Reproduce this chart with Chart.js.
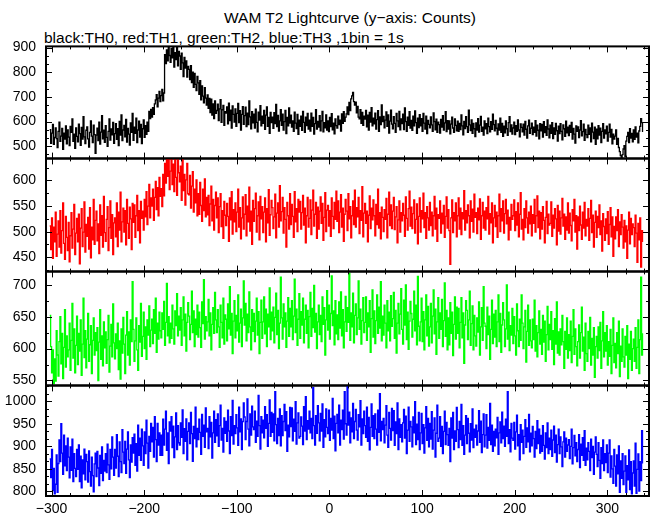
<!DOCTYPE html>
<html><head><meta charset="utf-8">
<script src="https://cdn.jsdelivr.net/npm/chart.js@4/dist/chart.umd.min.js"></script>
<style>
html,body{margin:0;padding:0;background:#fff}
body{width:652px;height:515px;position:relative;overflow:hidden;font-family:"Liberation Sans",Arial,sans-serif;color:#000}
canvas{position:absolute;left:0}
#title{position:absolute;top:10px;left:150px;width:400px;text-align:center;font-size:15.5px;line-height:16px;white-space:nowrap}
#sub{position:absolute;top:30px;left:44px;font-size:15.5px;line-height:16px;white-space:nowrap}
</style></head><body>
<div id="title">WAM T2 Lightcurve (y−axis: Counts)</div>
<div id="sub">black:TH0, red:TH1, green:TH2, blue:TH3 ,1bin = 1s</div>
<canvas id="c0"></canvas><canvas id="c1"></canvas><canvas id="c2"></canvas><canvas id="c3"></canvas>
<script>
// time axis: first bin start and bin width (s)
const T0 = -302, BIN = 1;
const X_TICKS = [-300,-200,-100,0,100,200,300];
const SERIES_NAMES = ['TH0','TH1','TH2','TH3'];
const COLORS = ['#000000','#ff0000','#00ff00','#0000ff'];

const TH0 = [
567,512,553,589,508,536,574,531,495,560,
598,520,541,572,488,553,529,583,510,566,
537,503,581,556,611,520,549,492,574,540,
518,590,551,504,577,529,620,538,511,565,
579,530,497,556,603,541,515,586,547,471,
545,573,523,598,509,557,624,530,565,516,
584,536,500,560,611,525,570,546,597,512,
551,592,528,571,503,601,545,627,523,566,
585,538,609,517,572,549,505,595,556,633,
524,578,552,614,515,566,602,537,589,511,
571,607,536,584,548,598,560,641,612,650,
618,657,629,672,688,709,660,695,723,681,
705,731,684,716,872,835,891,846,904,868,
840,897,859,905,821,880,851,903,826,885,
866,812,878,838,783,860,817,846,781,824,
812,770,827,758,801,739,796,751,726,783,
757,711,766,688,745,703,676,738,695,667,
708,654,694,637,691,626,672,612,684,633,
645,671,604,652,689,597,648,666,585,640,
635,660,591,675,604,646,574,664,629,598,
652,581,633,674,596,644,566,629,661,589,
624,659,580,634,588,684,619,571,640,595,
630,574,651,597,558,638,606,665,583,622,
593,645,569,626,660,581,617,552,637,596,
618,573,636,592,670,580,625,562,603,648,
585,630,566,600,645,551,617,583,656,594,
626,578,603,561,638,594,572,629,548,606,
581,622,565,641,597,556,618,584,633,570,
606,562,634,581,617,549,592,648,570,601,
578,624,563,603,641,558,596,575,627,566,
603,559,617,580,632,567,594,550,611,584,
574,622,588,606,562,631,593,640,601,618,
631,660,628,678,645,692,704,718,681,667,
679,636,662,618,611,648,593,637,585,622,
610,645,579,626,566,637,598,657,583,614,
591,634,570,608,644,560,619,588,668,600,
621,575,606,639,581,627,553,602,646,590,
571,620,593,556,633,603,580,641,567,611,
592,630,568,656,600,561,618,585,640,574,
605,565,622,583,643,596,552,614,576,628,
583,612,560,633,594,570,622,551,605,589,
575,619,587,561,635,600,567,610,556,598,
588,553,609,578,624,566,595,640,559,604,
570,603,550,590,618,574,556,611,585,563,
602,561,593,568,627,583,546,601,572,620,
580,556,646,587,564,607,552,593,571,539,
595,566,612,557,586,621,561,578,545,603,
571,592,551,614,580,558,600,569,630,588,
563,605,573,547,591,566,614,556,593,540,
582,554,603,571,544,596,620,559,587,549,
574,598,547,584,560,607,566,538,591,577,
558,590,545,601,569,533,583,606,552,573,
594,547,578,556,604,541,586,565,530,592,
563,589,537,600,555,580,544,607,570,534,
586,552,596,531,574,548,593,563,521,582,
551,592,560,526,587,571,540,602,554,578,
543,585,556,597,529,572,549,513,583,561,
579,535,566,604,542,559,590,524,568,547,
535,586,548,575,518,594,557,531,578,508,
569,530,584,545,573,515,560,592,533,566,
550,582,521,556,590,537,568,510,549,529,
541,566,508,532,495,478,462,451,466,489,
503,458,521,540,556,515,571,533,552,518,
566,528,579,537,553,514,562,581,612,596,
558];

const TH1 = [
511,465,527,448,509,480,538,452,495,521,
470,541,458,502,556,477,446,530,489,463,
518,441,492,537,468,505,553,455,497,526,
480,534,437,507,545,471,499,558,460,514,
491,528,466,547,449,509,484,563,475,522,
540,482,515,457,552,493,531,470,569,498,
481,524,549,463,508,560,487,533,455,517,
527,490,556,471,538,503,577,480,519,546,
499,541,474,563,516,487,548,525,465,555,
518,552,489,531,571,502,541,478,559,526,
540,503,563,529,578,514,550,592,527,566,
550,583,522,567,598,543,586,531,606,569,
584,549,612,570,633,595,643,608,643,582,
618,643,592,632,578,643,606,571,640,615,
597,628,561,643,580,612,552,601,633,574,
572,610,546,589,617,538,583,556,601,531,
574,534,596,551,520,583,541,603,529,567,
533,571,512,554,589,521,563,503,551,577,
527,566,498,549,574,510,541,487,559,532,
512,555,530,481,566,523,578,495,543,519,
556,500,538,583,509,547,486,527,568,505,
534,572,492,550,519,587,501,540,475,561,
520,545,575,499,531,558,484,569,525,549,
498,538,566,480,545,517,582,493,533,561,
547,506,529,573,488,536,556,509,590,521,
539,567,497,547,524,470,557,531,505,574,
514,553,530,489,578,519,545,500,563,538,
559,505,537,571,513,546,478,531,567,509,
526,562,494,542,581,511,534,557,487,548,
505,540,568,516,555,483,528,576,500,542,
551,511,541,491,566,530,506,557,524,579,
520,560,498,538,572,509,546,481,534,563,
540,502,574,525,549,488,531,560,514,581,
509,547,529,567,496,541,522,588,490,536,
555,516,540,480,532,570,506,546,523,562,
531,492,553,514,583,507,537,486,548,528,
500,543,524,565,488,534,577,512,552,506,
540,567,504,529,549,478,523,560,499,537,
521,555,532,491,568,526,503,545,579,511,
548,506,535,562,497,524,554,476,530,566,
499,541,525,575,508,537,487,549,527,503,
557,512,538,492,531,569,505,546,481,533,
526,560,497,536,515,551,489,530,568,507,
543,502,436,527,562,498,537,521,556,490,
531,566,505,546,494,537,525,580,503,541,
517,552,531,488,560,520,544,499,573,528,
537,496,546,523,564,485,531,557,507,540,
503,547,525,569,495,535,517,556,478,527,
551,510,538,489,531,573,500,545,521,560,
497,535,563,515,542,484,528,503,553,524,
531,562,502,539,513,556,490,534,576,505,
524,484,545,508,560,527,497,538,515,550,
492,533,516,563,499,531,570,508,540,486,
537,505,549,522,478,528,559,496,534,513,
516,558,491,532,507,545,525,474,551,501,
540,495,527,565,511,534,485,529,503,556,
497,536,512,482,543,521,563,499,531,466,
529,502,550,513,485,538,507,557,492,524,
511,545,483,526,561,498,532,470,518,540,
489,530,508,552,494,521,462,535,510,483,
525,496,539,475,514,547,490,529,452,510,
486,529,502,543,471,519,494,533,509,468,
522,480,511,448,503,538,476,526,494,515,
508,471,532,497,440,516,484,527,431,502,
480];

const TH2 = [
652,603,562,598,545,584,549,628,590,557,
611,650,576,624,553,602,661,571,620,587,
598,640,566,613,671,585,631,562,605,651,
575,624,596,645,558,607,679,586,628,570,
615,655,580,606,636,561,613,648,590,625,
597,633,550,610,661,583,620,573,642,601,
626,577,614,652,563,604,638,587,670,609,
584,623,600,640,567,612,552,631,593,649,
607,561,621,658,590,626,574,645,611,705,
630,580,612,648,598,566,636,610,671,588,
619,657,600,634,583,645,621,667,603,629,
646,608,661,624,679,594,640,615,657,628,
617,656,630,674,605,641,702,620,650,609,
640,616,668,631,607,659,636,686,620,651,
629,664,605,645,681,620,654,596,641,672,
651,614,638,690,625,659,603,646,622,668,
618,657,633,602,673,639,708,615,650,628,
642,677,620,656,598,638,664,624,688,645,
625,661,634,602,668,641,617,679,607,653,
646,612,670,631,697,621,655,592,643,675,
617,652,628,684,610,640,662,603,648,706,
637,671,612,654,625,689,634,598,661,627,
655,611,643,679,621,658,592,641,676,616,
642,681,623,662,603,654,634,695,614,657,
628,665,609,649,687,622,660,600,640,712,
648,615,670,634,656,602,643,680,619,663,
634,675,614,651,709,625,662,605,646,686,
616,658,637,679,609,646,668,624,660,601,
650,688,619,663,633,699,626,655,600,642,
668,622,652,611,681,638,664,590,645,691,
629,668,615,655,714,636,659,606,675,623,
653,614,673,632,689,620,661,601,642,682,
627,664,641,718,613,656,634,687,609,652,
670,622,648,706,630,662,607,644,680,625,
641,681,613,656,634,675,594,647,692,618,
659,608,644,684,624,665,632,705,612,651,
621,668,640,601,675,628,657,612,683,635,
647,688,616,660,593,640,671,623,654,694,
630,607,676,637,700,614,657,599,643,674,
655,618,646,690,628,668,606,713,635,612,
642,679,611,658,598,645,684,620,666,604,
634,671,609,651,692,623,662,591,642,680,
616,656,630,677,603,644,703,619,660,598,
648,606,672,624,657,589,638,681,615,665,
624,663,601,641,680,617,656,577,637,675,
660,614,645,690,605,639,667,598,652,620,
604,648,626,673,590,634,664,613,697,640,
635,600,665,622,651,583,630,676,608,654,
618,660,603,642,684,611,655,594,637,672,
645,603,631,700,615,657,597,636,621,663,
608,650,620,590,670,628,603,646,613,684,
640,600,634,660,579,627,668,605,645,612,
601,646,614,676,596,636,587,625,659,607,
630,591,652,610,643,580,622,666,598,638,
614,658,599,628,575,647,607,673,593,626,
590,631,606,652,611,569,627,599,648,585,
622,597,643,578,619,661,591,631,603,573,
611,637,585,625,665,596,618,566,640,592,
580,627,600,649,574,616,590,633,555,603,
619,585,634,597,641,569,612,658,587,625,
596,636,574,611,588,630,561,605,648,578,
608,570,625,592,643,556,604,580,631,587,
571,619,590,636,553,607,583,627,566,600,
615,580,633,569,602,645,561,614,712,590,
624];

const TH3 = [
872,831,893,802,851,795,816,881,798,862,
914,866,950,885,838,925,857,901,846,918,
876,830,899,847,916,822,884,851,833,893,
849,903,822,878,808,870,839,894,826,882,
866,821,890,844,812,876,835,799,861,885,
833,889,852,813,880,840,899,824,869,845,
884,842,905,859,827,893,850,921,876,836,
893,852,926,878,833,910,866,842,937,887,
862,911,840,894,932,870,831,903,865,919,
885,927,858,906,845,947,880,918,869,938,
901,858,932,884,958,907,852,922,889,951,
910,942,876,966,915,866,951,903,930,880,
925,880,960,903,938,978,891,930,862,954,
934,966,897,945,875,921,974,893,946,908,
903,952,920,981,884,939,911,961,870,933,
952,906,975,928,867,944,917,987,899,940,
915,960,931,882,971,922,947,898,985,932,
940,895,966,921,953,874,930,978,909,959,
923,972,900,946,991,914,940,887,963,929,
955,911,980,934,884,966,924,1002,905,946,
928,970,941,902,987,932,961,893,955,996,
965,915,955,1005,938,901,972,925,989,943,
937,978,909,956,922,1013,946,894,966,930,
958,919,988,940,970,900,951,1003,922,975,
931,972,912,1021,948,906,962,924,983,901,
968,924,955,993,935,977,889,947,921,986,
944,985,912,960,933,999,905,952,974,918,
922,965,945,904,988,934,1010,915,957,938,
978,930,962,917,1030,946,903,968,929,990,
952,912,973,934,994,898,959,921,983,942,
928,980,913,962,936,1006,917,967,890,951,
971,930,991,903,958,937,980,916,1021,950,
925,1033,947,976,908,963,932,995,917,955,
982,936,914,970,943,1001,903,961,928,978,
946,920,987,911,964,892,942,994,922,968,
917,972,938,903,980,931,1017,912,955,937,
962,908,947,990,925,898,975,940,914,984,
935,979,902,954,928,996,893,961,920,948,
910,952,982,918,967,884,936,987,911,955,
943,899,965,930,999,904,949,915,975,893,
930,973,906,948,885,941,988,913,962,899,
951,916,977,894,936,963,876,929,991,911,
918,966,900,944,884,933,978,904,953,926,
902,940,866,963,918,975,893,934,911,986,
937,897,955,915,993,902,946,882,925,968,
906,962,929,888,950,914,983,897,938,920,
947,903,934,979,909,956,886,926,972,899,
925,970,896,942,913,995,904,947,889,933,
901,938,919,964,882,930,954,908,976,917,
945,900,960,922,1021,906,937,888,951,918,
913,953,894,932,969,901,926,870,948,909,
936,884,922,959,898,941,910,971,888,929,
901,944,917,876,933,895,957,906,938,885,
924,889,946,902,872,930,897,952,884,918,
893,936,878,914,945,886,925,865,904,938,
884,921,899,855,910,932,876,918,889,903,
915,873,900,938,861,897,924,879,908,866,
893,926,853,905,880,919,869,935,858,896,
870,908,889,846,916,875,900,838,887,921,
882,855,908,869,829,897,862,914,846,884,
864,903,842,885,914,832,879,850,818,893,
856,812,881,839,901,798,868,829,884,815,
845,879,798,857,826,892,804,866,795,841,
868,812,907,796,849,883,801,866,824,935,
862];

const Y_TICKS = [[500,600,700,800,900],[450,500,550,600],[550,600,650,700],[800,850,900,950,1000]];
const Y_RANGES = [[450,905],[422,643],[542,721],[790,1035]];
const X_RANGE = [-306,345];
const ALL = [TH0,TH1,TH2,TH3];

// layout (pixels)
const PANEL_TOP = [46,158,271,385], PANEL_BOT = [158,271,385,496];
const Y_MINOR_DIV = [3,2,2,3];

Chart.defaults.font.family = '"Liberation Sans", Arial, sans-serif';
Chart.defaults.font.size = 14;
Chart.defaults.color = '#000';

function framePlugin(idx){
  return {
    id:'frame'+idx,
    afterDatasetsDraw(chart){
      const {ctx, chartArea:a, scales:{x,y}} = chart;
      ctx.save();
      ctx.strokeStyle = '#000';
      ctx.lineWidth = 1;
      ctx.beginPath();
      for (let v=-300; v<=X_RANGE[1]; v+=20){
        const px = Math.round(x.getPixelForValue(v))+0.5;
        const L = (v%100===0)?6:3;
        ctx.moveTo(px,a.top); ctx.lineTo(px,a.top+L);
        ctx.moveTo(px,a.bottom); ctx.lineTo(px,a.bottom-L);
      }
      const maj = Y_TICKS[idx];
      const sp = maj[1]-maj[0];
      const step = sp/Y_MINOR_DIV[idx];
      const lo = Y_RANGES[idx][0], hi = Y_RANGES[idx][1];
      for (let k=-20; k<=60; k++){
        const v = maj[0] + k*step;
        if (v < lo || v > hi) continue;
        const py = Math.round(y.getPixelForValue(v))+0.5;
        const r = (v-maj[0])/sp;
        const L = Math.abs(r-Math.round(r))<1e-6 ? 6 : 3;
        ctx.moveTo(a.left,py); ctx.lineTo(a.left+L,py);
        ctx.moveTo(a.right,py); ctx.lineTo(a.right-L,py);
      }
      ctx.stroke();
      ctx.lineWidth = 2;
      ctx.strokeRect(a.left, a.top, a.right-a.left, a.bottom-a.top);
      ctx.restore();
    }
  };
}

function makeChart(idx, h){
  const cv = document.getElementById('c'+idx);
  const last = idx === 3;
  cv.width = 652; cv.height = h;
  cv.style.width = '652px'; cv.style.height = h+'px';
  const xScale = {type:'linear', min:X_RANGE[0], max:X_RANGE[1], display:last,
     grid:{display:false, drawTicks:false}, border:{display:false},
     afterBuildTicks: s => { s.ticks = X_TICKS.map(v=>({value:v})); },
     ticks:{padding:5, maxRotation:0, autoSkip:false,
       callback: v => (v<0 ? '\u2212'+Math.abs(v) : String(v))}};
  if (last) xScale.afterFit = s => { s.height = 20; };
  return new Chart(cv, {
    type:'line',
    data:{datasets:[{
      label: SERIES_NAMES[idx],
      data: ALL[idx].map((v,i)=>({x:T0+i*BIN, y:v})),
      borderColor: COLORS[idx],
      borderWidth: 1.3,
      pointRadius: 0,
      stepped: true,
      fill: false
    }]},
    options:{
      responsive:false, maintainAspectRatio:false, animation:false, devicePixelRatio:1,
      layout:{padding:{top:10,bottom:last?0:10,left:0,right:3}},
      plugins:{legend:{display:false},tooltip:{enabled:false}},
      scales:{
        x: xScale,
        y:{type:'linear', min:Y_RANGES[idx][0], max:Y_RANGES[idx][1],
           grid:{display:false, drawTicks:false}, border:{display:false},
           afterBuildTicks: s => { s.ticks = Y_TICKS[idx].map(v=>({value:v})); },
           afterFit: s => { s.width = 46; },
           ticks:{padding:10, autoSkip:false, callback: v => String(v)}}
      }
    },
    plugins:[framePlugin(idx)]
  });
}

ALL.forEach((vals, idx) => {
  const last = idx === 3;
  const wantH = PANEL_BOT[idx]-PANEL_TOP[idx];
  let h = wantH + 10 + (last ? 20 : 10);
  let chart = makeChart(idx, h);
  // align the plotting area to the panel box: rebuild with corrected canvas height
  for (let it=0; it<3; it++){
    const got = chart.chartArea.bottom - chart.chartArea.top;
    if (Math.abs(got - wantH) < 0.5) break;
    h = Math.round(h + (wantH - got));
    chart.destroy();
    chart = makeChart(idx, h);
  }
  document.getElementById('c'+idx).style.top = (PANEL_TOP[idx] - chart.chartArea.top) + 'px';
});
</script>
</body></html>
